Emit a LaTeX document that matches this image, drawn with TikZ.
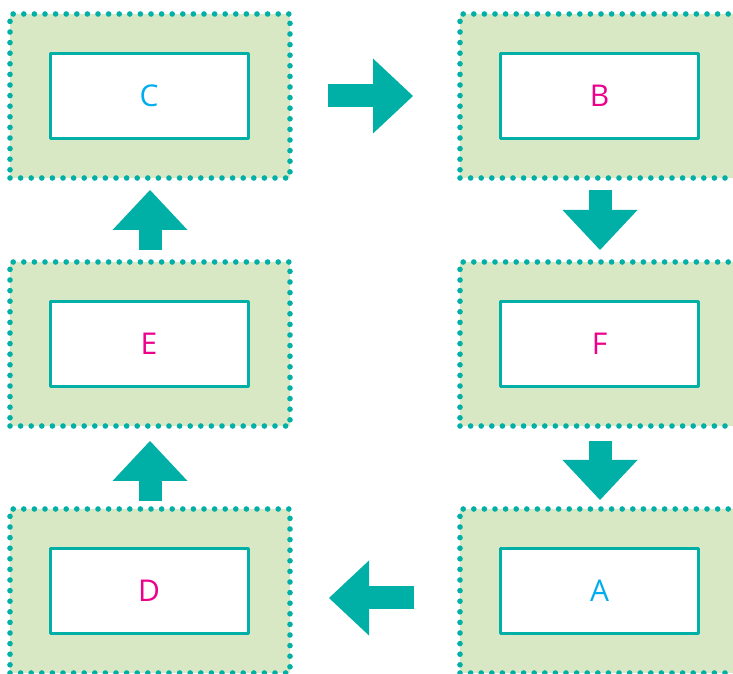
\documentclass[tikz,border=0pt]{standalone}
\usepackage{fontspec}
\setmainfont{Open Sans}
\usetikzlibrary{arrows.meta,positioning}
\definecolor{tealline}{RGB}{0,175,165}
\definecolor{greenfill}{RGB}{217,232,196}
\definecolor{cyantext}{RGB}{0,174,239}
\definecolor{magentatext}{RGB}{236,0,140}
\begin{document}
\begin{tikzpicture}[line join=round,x=1pt,y=1pt,
  outerbox/.style={fill=greenfill,draw=tealline,line width=5.6pt,line cap=round,
    dash pattern=on 0pt off 10.6pt,minimum width=280pt,minimum height=164pt,
    inner sep=0pt,outer sep=0pt},
  innerbox/.style={fill=white,draw=tealline,line width=3pt,minimum width=198pt,
    minimum height=85pt,inner sep=0pt,outer sep=0pt,font=\fontsize{30}{31}\selectfont},
  flow/.style={draw=tealline,line width=23pt,
    -{Triangle[length=40pt,width=75pt,line width=0pt]}}]
\useasboundingbox (0,0) rectangle (733,674);
\clip (0,0) rectangle (733,674);
% outer boxes
\node[outerbox] (cOut) at (150,578) {};
\node[outerbox] (eOut) at (150,330) {};
\node[outerbox] (dOut) at (150,83) {};
\node[outerbox] (bOut) at (600,578) {};
\node[outerbox] (fOut) at (600,330) {};
\node[outerbox] (aOut) at (600,83) {};
% inner boxes
\node[innerbox,text=cyantext] (cBox) at (149,578) {C};
\node[innerbox,text=magentatext] (eBox) at (149,330) {E};
\node[innerbox,text=magentatext] (dBox) at (149,83) {D};
\node[innerbox,text=magentatext] (bBox) at (599.5,578) {B};
\node[innerbox,text=magentatext] (fBox) at (599.5,330) {F};
\node[innerbox,text=cyantext] (aBox) at (599.5,83) {A};
% flow arrows
\draw[flow,shorten <=38pt,shorten >=47pt] (cOut.east) -- (bOut.west);
\draw[flow,shorten <=12pt,shorten >=12pt] (bOut.south) -- (fOut.north);
\draw[flow,shorten <=15pt,shorten >=9pt] (fOut.south) -- (aOut.north);
\draw[flow,shorten <=46pt,shorten >=39pt] ([yshift=-7pt]aOut.west) -- ([yshift=-7pt]dOut.east);
\draw[flow,shorten <=8pt,shorten >=15pt] (dOut.north) -- (eOut.south);
\draw[flow,shorten <=12pt,shorten >=12pt] (eOut.north) -- (cOut.south);
\end{tikzpicture}
\end{document}
